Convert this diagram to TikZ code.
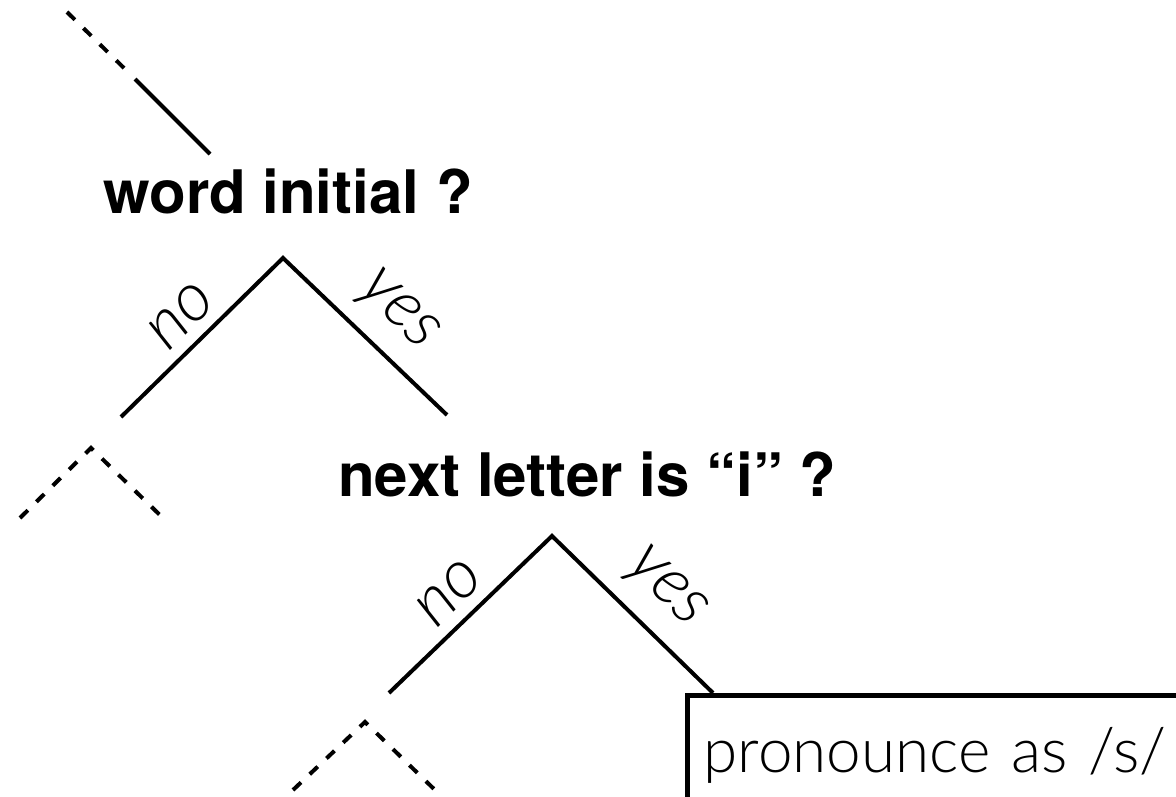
\documentclass[tikz,border=0pt]{standalone}
\usepackage{fontspec}
\setmainfont{TeX Gyre Heros}
\newfontfamily\lightfont{Lato Light}
\begin{document}
\begin{tikzpicture}[x=1pt,y=-1pt,
  branch/.style={line width=4pt},
  stub/.style={line width=4pt, dash pattern=on 11pt off 12pt},
  question/.style={font=\fontsize{60}{72}\selectfont\bfseries, anchor=base west, inner sep=0pt},
  answer/.style={font=\lightfont\itshape\fontsize{68}{80}\selectfont, inner sep=0pt},
  outcome/.style={draw, line width=5pt, anchor=north west, align=left,
    font=\lightfont\fontsize{62}{72}\selectfont,
    text width=560pt, text height=47pt, text depth=15pt,
    inner xsep=16pt, inner ysep=30pt}
]
\useasboundingbox (0,0) rectangle (1176,797);
\clip (0,0) rectangle (1176,797);

% branch coming down from the parent question
\coordinate (topA) at (67,12);
\coordinate (topB) at (128,72);
\coordinate (topC) at (135,79);
\coordinate (topD) at (210,154);
\draw[stub] (topA) -- (topB);
\draw[branch] (topC) -- (topD);

% first question
\node[question] (q1) at (103,214) {word initial ?};
\coordinate (t1a) at (283,258);
\coordinate (t1l) at (121,417);
\coordinate (t1r) at (447,415);
\draw[branch] (t1l) -- (t1a) -- (t1r);
\node[answer, rotate=45] (n1) at (181,316) {no};
\node[answer, rotate=-45] (y1) at (397,312) {yes};

% unexpanded subtree under "no"
\coordinate (s1a) at (91,448);
\coordinate (s1l) at (20,518);
\coordinate (s1r) at (163,518);
\draw[stub] (s1l) -- (s1a) -- (s1r);

% second question
\node[question] (q2) at (338,496) {next letter is “i” ?};
\coordinate (t2a) at (552,536);
\coordinate (t2l) at (389,693);
\coordinate (t2r) at (713,693);
\draw[branch] (t2l) -- (t2a) -- (t2r);
\node[answer, rotate=45] (n2) at (449,593) {no};
\node[answer, rotate=-45] (y2) at (665,589) {yes};

% unexpanded subtree under the second "no"
\coordinate (s2a) at (365,722);
\coordinate (s2l) at (293,790);
\coordinate (s2r) at (435,790);
\draw[stub] (s2l) -- (s2a) -- (s2r);

% leaf
\node[outcome] (act) at (685,693) {pronounce as /s/};
\end{tikzpicture}
\end{document}
